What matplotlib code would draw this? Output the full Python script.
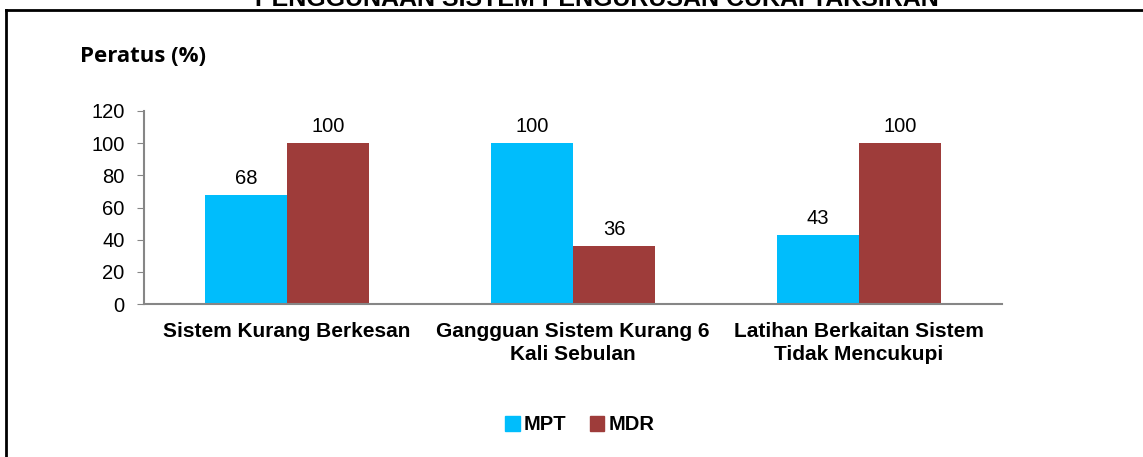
import matplotlib
matplotlib.use("Agg")
import matplotlib.pyplot as plt
import numpy as np
from matplotlib.patches import Rectangle
from matplotlib.lines import Line2D

categories = ["Sistem Kurang Berkesan", "Gangguan Sistem Kurang 6\nKali Sebulan",
              "Latihan Berkaitan Sistem\nTidak Mencukupi"]
mpt = [68, 100, 43]
mdr = [100, 36, 100]
series_names = ["MPT", "MDR"]
yticks = [0, 20, 40, 60, 80, 100, 120]
title = "PENGGUNAAN SISTEM PENGURUSAN CUKAI TAKSIRAN"
ylabel = "Peratus (%)"

c_mpt = "#00BDFC"
c_mdr = "#9E3C3A"

W, H = 1143, 457
fig = plt.figure(figsize=(W / 100, H / 100), dpi=100)
plt.rcParams['font.family'] = ['Liberation Sans', 'DejaVu Sans']

# frame border (left and top)
fig.add_artist(Line2D([6 / W, 6 / W], [0, 1 - 10 / H], transform=fig.transFigure,
                      color="black", lw=2))
fig.add_artist(Line2D([6 / W, 1], [1 - 10 / H, 1 - 10 / H], transform=fig.transFigure,
                      color="black", lw=2))

# title (clipped at top, as in the reference)
fig.text(597 / W, 1 + 1 / H, title, ha="center", va="center", fontsize=18,
         fontweight="bold", family=['Liberation Sans'])

fig.text(80 / W, 1 - 57 / H, ylabel, ha="left", va="center", fontsize=16,
         fontweight="bold", family=['Open Sans', 'DejaVu Sans'])

left, right = 144 / W, 1002 / W
bottom, top = 1 - 304 / H, 1 - 111 / H
ax = fig.add_axes([left, bottom, right - left, top - bottom])

x = np.arange(len(categories))
w = 0.287
b1 = ax.bar(x - w / 2, mpt, w, color=c_mpt, label=series_names[0])
b2 = ax.bar(x + w / 2, mdr, w, color=c_mdr, label=series_names[1])

for bars, vals in ((b1, mpt), (b2, mdr)):
    for r, v in zip(bars, vals):
        ax.annotate(f"{v}", (r.get_x() + r.get_width() / 2, v), xytext=(0, 5),
                    textcoords="offset points", ha="center", va="bottom", fontsize=14.5)

ax.set_xlim(-0.5, len(categories) - 0.5)
ax.set_ylim(0, 120)
ax.set_yticks(yticks)
ax.set_yticklabels([str(t) for t in yticks], fontsize=14.5)
ax.set_xticks(x)
ax.set_xticklabels(categories, fontsize=15, fontweight="bold", linespacing=1.25)
ax.tick_params(axis="x", length=0, pad=13)
ax.tick_params(axis="y", length=5, color="#868686", pad=9)
for s in ("top", "right"):
    ax.spines[s].set_visible(False)
for s in ("left", "bottom"):
    ax.spines[s].set_color("#868686")
    ax.spines[s].set_linewidth(1.5)

leg = fig.legend(handles=[Rectangle((0, 0), 1, 1, color=c_mpt),
                          Rectangle((0, 0), 1, 1, color=c_mdr)],
                 labels=series_names, loc="center", bbox_to_anchor=(580 / W, 1 - 425 / H),
                 ncol=2, frameon=False, handlelength=0.7, handleheight=0.7,
                 handletextpad=0.2, columnspacing=1.2,
                 prop={"size": 14.5, "weight": "bold"})

fig.savefig("out.png", dpi=100)
